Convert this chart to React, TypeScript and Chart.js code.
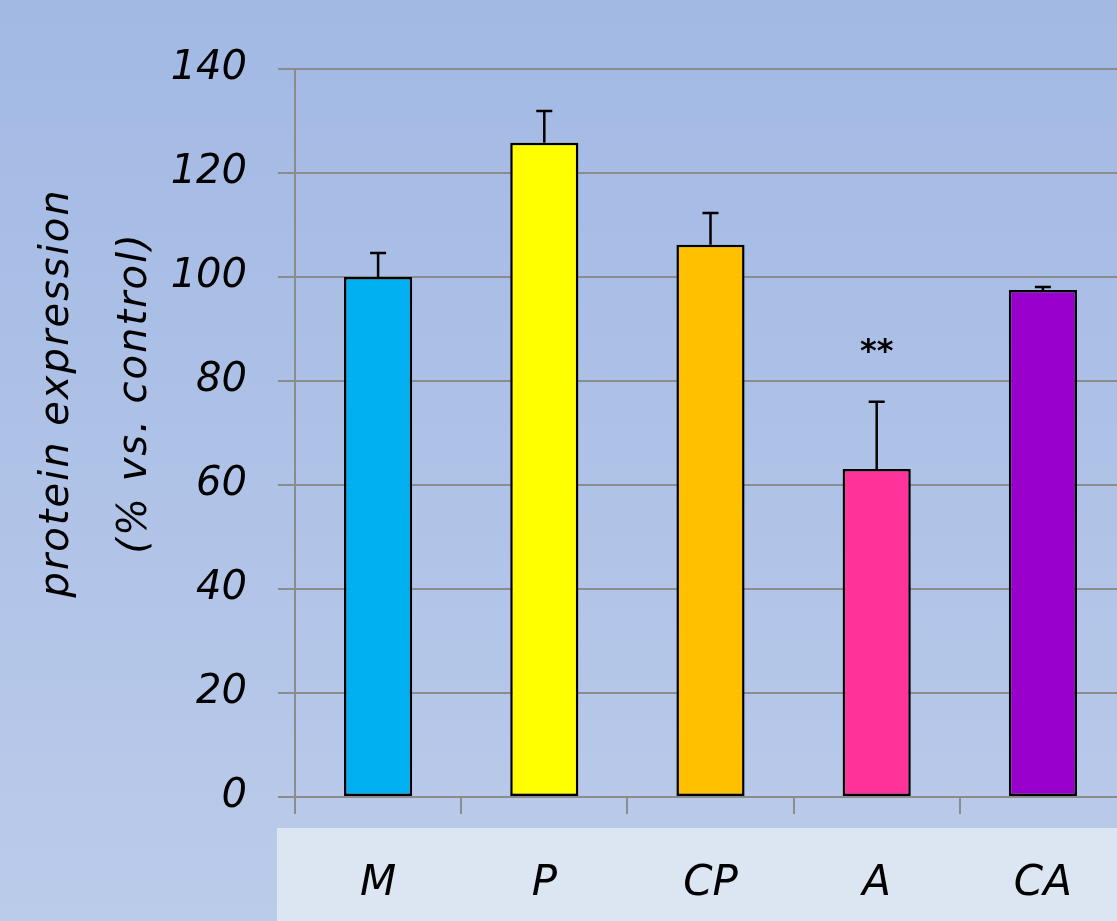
import React, { useEffect, useRef } from "react";
import { Chart, registerables } from "chart.js";

Chart.register(...registerables);

// Groups and measured protein expression (% vs. control)
const categories = ["M", "P", "CP", "A", "CA"];
const expression = [100, 125.8, 106.2, 63.1, 97.5];
const errorUp = [4.6, 6.1, 6.1, 12.9, 0.6];
const barColors = ["#00b0f0", "#ffff00", "#ffc000", "#ff3399", "#9900cc"];
const significance = ["", "", "", "**", ""];
const significanceLevel = [0, 0, 0, 87, 0];

const yMin = 0;
const yMax = 140;
const yStep = 20;
const titleLines = ["protein expression", "(% vs. control)"];

const FONT = "'DejaVu Sans', sans-serif";
const GRID = "#8c8c8c";

const backgroundPlugin = {
  id: "pageBackground",
  beforeDraw(chart: any) {
    const { ctx, width, height, chartArea } = chart;
    ctx.save();
    const g = ctx.createLinearGradient(0, 0, 0, height);
    g.addColorStop(0, "#a2b9e4");
    g.addColorStop(1, "#bbcbea");
    ctx.fillStyle = g;
    ctx.fillRect(0, 0, width, height);
    // pale band behind the category labels
    ctx.fillStyle = "#dce5f2";
    ctx.fillRect(chartArea.left - 18, chartArea.bottom + 31, width, height);
    ctx.restore();
  },
};

const errorBarPlugin = {
  id: "errorBars",
  afterDatasetsDraw(chart: any) {
    const { ctx } = chart;
    const yScale = chart.scales.y;
    const meta = chart.getDatasetMeta(0);
    ctx.save();
    ctx.strokeStyle = "#000";
    ctx.lineWidth = 2.5;
    meta.data.forEach((bar: any, i: number) => {
      const top = yScale.getPixelForValue(expression[i] + errorUp[i]);
      ctx.beginPath();
      ctx.moveTo(bar.x, bar.y);
      ctx.lineTo(bar.x, top);
      ctx.moveTo(bar.x - 8, top);
      ctx.lineTo(bar.x + 8, top);
      ctx.stroke();
      if (significance[i]) {
        ctx.fillStyle = "#000";
        ctx.font = `bold 32px ${FONT}`;
        ctx.textAlign = "center";
        ctx.textBaseline = "middle";
        ctx.fillText(significance[i], bar.x, yScale.getPixelForValue(significanceLevel[i]) + 8);
      }
    });
    ctx.restore();
  },
};

const axisTitlePlugin = {
  id: "yAxisTitle",
  afterDraw(chart: any) {
    const { ctx, chartArea } = chart;
    const cy = chartArea.top + (chartArea.bottom - chartArea.top) * 0.445;
    const xs = [58, 136];
    ctx.save();
    ctx.fillStyle = "#000";
    ctx.font = `italic 40px ${FONT}`;
    (ctx as any).letterSpacing = "2px";
    ctx.textAlign = "center";
    ctx.textBaseline = "middle";
    titleLines.forEach((line, i) => {
      ctx.save();
      ctx.translate(xs[i], cy);
      ctx.rotate(-Math.PI / 2);
      ctx.fillText(line, 0, 0);
      ctx.restore();
    });
    ctx.restore();
  },
};

export default function App() {
  const canvasRef = useRef<HTMLCanvasElement | null>(null);

  useEffect(() => {
    document.body.style.margin = "0";
    document.body.style.overflow = "hidden";
    const canvas = canvasRef.current;
    if (!canvas) return;
    const chart = new Chart(canvas, {
      type: "bar",
      data: {
        labels: categories,
        datasets: [
          {
            data: expression,
            backgroundColor: barColors,
            borderColor: "#000",
            borderWidth: 2.5,
            borderSkipped: false,
            barPercentage: 0.41,
            categoryPercentage: 1,
          },
        ],
      },
      options: {
        responsive: false,
        animation: false,
        events: [],
        layout: { padding: { top: 69, right: 14, bottom: 0, left: 0 } },
        plugins: {
          legend: { display: false },
          tooltip: { enabled: false },
          title: { display: false },
        },
        scales: {
          x: {
            afterFit(scale: any) {
              scale.height = 124;
            },
            grid: {
              display: true,
              drawOnChartArea: false,
              drawTicks: true,
              tickLength: 17,
              color: GRID,
              lineWidth: 2,
            },
            border: { display: true, color: GRID, width: 2 },
            ticks: {
              color: "#000",
              padding: 45,
              font: { family: FONT, size: 42, style: "italic" },
            },
          },
          y: {
            min: yMin,
            max: yMax,
            afterFit(scale: any) {
              scale.width = 295;
            },
            grid: {
              color: GRID,
              lineWidth: 2,
              drawTicks: true,
              tickLength: 17,
            },
            border: { display: true, color: GRID, width: 2 },
            ticks: {
              stepSize: yStep,
              color: "#000",
              padding: 31,
              font: { family: FONT, size: 40, style: "italic" },
            },
          },
        },
      },
      plugins: [backgroundPlugin, errorBarPlugin, axisTitlePlugin],
    });
    return () => chart.destroy();
  }, []);

  return (
    <div style={{ width: 1117, height: 921, overflow: "hidden", position: "relative" }}>
      <canvas ref={canvasRef} width={1140} height={921} style={{ display: "block" }} />
    </div>
  );
}
